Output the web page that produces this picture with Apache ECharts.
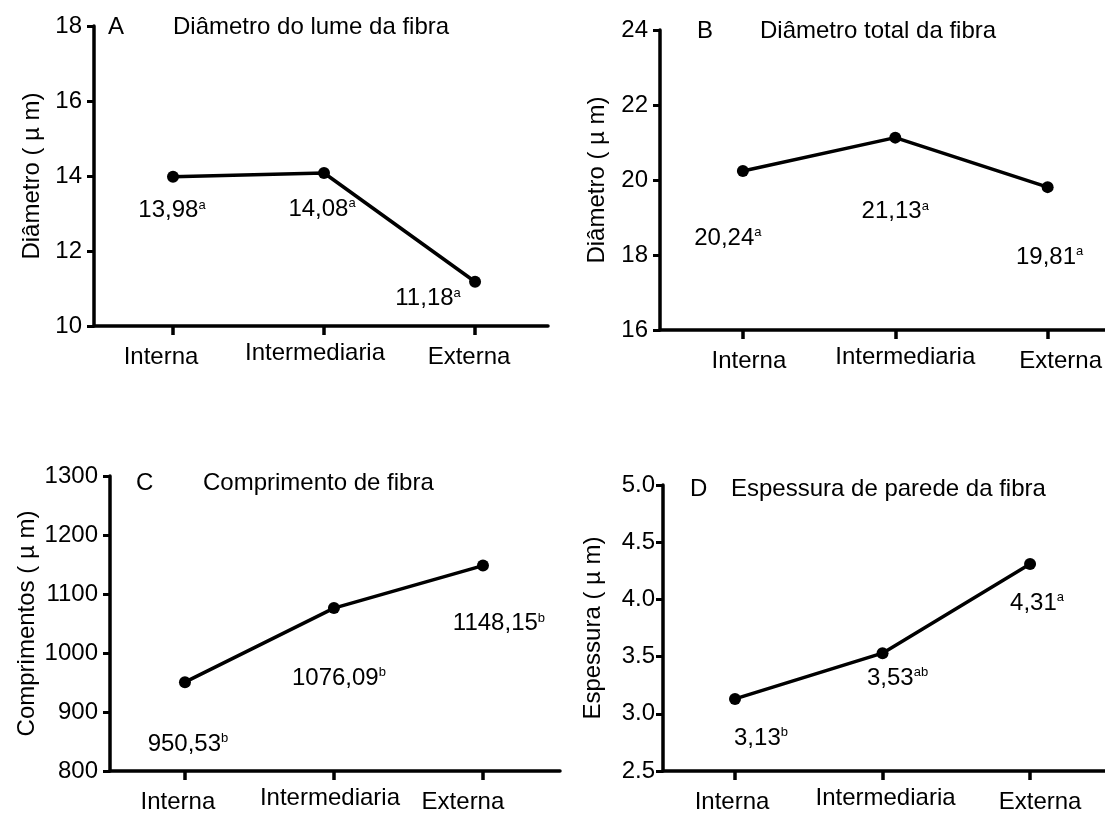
<!DOCTYPE html>
<html>
<head>
<meta charset="utf-8">
<script src="https://cdn.jsdelivr.net/npm/echarts@6/dist/echarts.min.js"></script>
<style>
html,body{margin:0;padding:0;background:#fff;}
#chart{width:1105px;height:814px;}
</style>
</head>
<body>
<div id="chart"></div>
<script>
// ---- data ----
const categories = ['Interna', 'Intermediaria', 'Externa'];

const lumeValues = [13.98, 14.08, 11.18];
const lumeLetters = ['a', 'a', 'a'];

const totalValues = [20.24, 21.13, 19.81];
const totalLetters = ['a', 'a', 'a'];

const comprimentoValues = [950.53, 1076.09, 1148.15];
const comprimentoLetters = ['b', 'b', 'b'];

const espessuraValues = [3.13, 3.53, 4.31];
const espessuraLetters = ['b', 'ab', 'a'];

const panelLetters = ['A', 'B', 'C', 'D'];
const panelTitles = ['Diâmetro do lume da fibra', 'Diâmetro total da fibra', 'Comprimento de fibra', 'Espessura de parede da fibra'];
const yAxisNames = ['Diâmetro ( µ m)', 'Diâmetro ( µ m)', 'Comprimentos ( µ m)', 'Espessura ( µ m)'];
const yRanges = [[10, 18, 2], [16, 24, 2], [800, 1300, 100], [2.5, 5.0, 0.5]];

// ---- layout / style (not data) ----
const FONT = "'Liberation Sans', Arial, Helvetica, sans-serif";
const FS = 24;
const panels = [
  { values: lumeValues, letters: lumeLetters,
    grid: { left: 94, top: 26, width: 454, height: 300 }, xr: [-0.523, 2.483],
    nameGap: 50, yMargin: 12, yDecimals: 0,
    letterPos: [108, 15], titlePos: [173, 15],
    xShift: [-12, -9, -6],
    offsets: [[-1, 34], [-2, 36], [-47, 17]] },
  { values: totalValues, letters: totalLetters,
    grid: { left: 660, top: 30, width: 445, height: 300 }, xr: [-0.544, 2.374],
    nameGap: 51, yMargin: 12, yDecimals: 0,
    letterPos: [697, 19], titlePos: [760, 19],
    xShift: [6, 10, 13],
    offsets: [[-15, 67], [0, 74], [2, 70]] },
  { values: comprimentoValues, letters: comprimentoLetters,
    grid: { left: 110, top: 476, width: 450, height: 298 }, xr: [-0.503, 2.517],
    nameGap: 71, yMargin: 12, yDecimals: 0,
    letterPos: [136, 471], titlePos: [203, 471],
    xShift: [-7, -4, -20],
    offsets: [[3, 62], [5, 70], [16, 58]] },
  { values: espessuraValues, letters: espessuraLetters,
    grid: { left: 663, top: 485, width: 442, height: 294 }, xr: [-0.488, 2.508],
    nameGap: 58, yMargin: 8, yDecimals: 1,
    letterPos: [690, 477], titlePos: [731, 477],
    xShift: [-3, 3, 10],
    offsets: [[26, 39], [15, 25], [7, 39]] }
];
const xDrop = [4, 0, 4]; // vertical shift of category labels (Intermediaria sits higher)

function fmt(v) { return v.toFixed(2).replace('.', ','); }

const grids = [], xAxes = [], yAxes = [], series = [], titles = [];
panels.forEach((p, i) => {
  grids.push(Object.assign({ containLabel: false }, p.grid));
  const rich = {};
  categories.forEach((c, j) => {
    const s = p.xShift[j];
    rich['c' + j] = {
      fontSize: FS, fontFamily: FONT, color: '#000',
      padding: [xDrop[j], s < 0 ? -2 * s : 0, 0, s > 0 ? 2 * s : 0]
    };
  });
  xAxes.push({
    type: 'value', gridIndex: i, min: p.xr[0], max: p.xr[1],
    axisLine: { show: true, onZero: false, lineStyle: { color: '#000', width: 3.5 } },
    axisTick: { show: true, customValues: [0, 1, 2], length: 9, lineStyle: { color: '#000', width: 3.5 } },
    axisLabel: { show: true, customValues: [0, 1, 2],
      formatter: v => { const k = Math.round(v); return '{c' + k + '|' + categories[k] + '}'; },
      rich: rich,
      color: '#000', fontSize: FS, fontFamily: FONT, margin: 15 },
    splitLine: { show: false }
  });
  const yr = yRanges[i];
  yAxes.push({
    type: 'value', gridIndex: i, min: yr[0], max: yr[1], interval: yr[2],
    name: yAxisNames[i], nameLocation: 'middle', nameGap: p.nameGap,
    nameTextStyle: { color: '#000', fontSize: FS, fontFamily: FONT },
    axisLine: { show: true, onZero: false, lineStyle: { color: '#000', width: 3.5 } },
    axisTick: { show: true, length: 7, lineStyle: { color: '#000', width: 3 } },
    axisLabel: { color: '#000', fontSize: FS, fontFamily: FONT, margin: p.yMargin,
      formatter: v => v.toFixed(p.yDecimals) },
    splitLine: { show: false }
  });
  series.push({
    type: 'line', xAxisIndex: i, yAxisIndex: i,
    data: p.values.map((v, j) => ({
      value: [j, v],
      label: { offset: p.offsets[j] }
    })),
    symbol: 'circle', symbolSize: 12,
    itemStyle: { color: '#000' },
    lineStyle: { color: '#000', width: 3.5 },
    label: {
      show: true, position: 'inside', align: 'center', verticalAlign: 'middle',
      formatter: prm => '{v|' + fmt(prm.value[1]) + '}{s|' + p.letters[prm.dataIndex] + '}',
      rich: {
        v: { fontSize: FS, fontFamily: FONT, color: '#000' },
        s: { fontSize: 13, fontFamily: FONT, color: '#000', verticalAlign: 'top' }
      }
    },
    animation: false
  });
  titles.push({ text: panelLetters[i], left: p.letterPos[0], top: p.letterPos[1], padding: 0,
    textStyle: { color: '#000', fontSize: FS, fontWeight: 'normal', fontFamily: FONT } });
  titles.push({ text: panelTitles[i], left: p.titlePos[0], top: p.titlePos[1], padding: 0,
    textStyle: { color: '#000', fontSize: FS, fontWeight: 'normal', fontFamily: FONT } });
});

const chart = echarts.init(document.getElementById('chart'), null, { renderer: 'canvas' });
chart.setOption({
  backgroundColor: '#fff',
  animation: false,
  title: titles,
  grid: grids,
  xAxis: xAxes,
  yAxis: yAxes,
  series: series
});
</script>
</body>
</html>
